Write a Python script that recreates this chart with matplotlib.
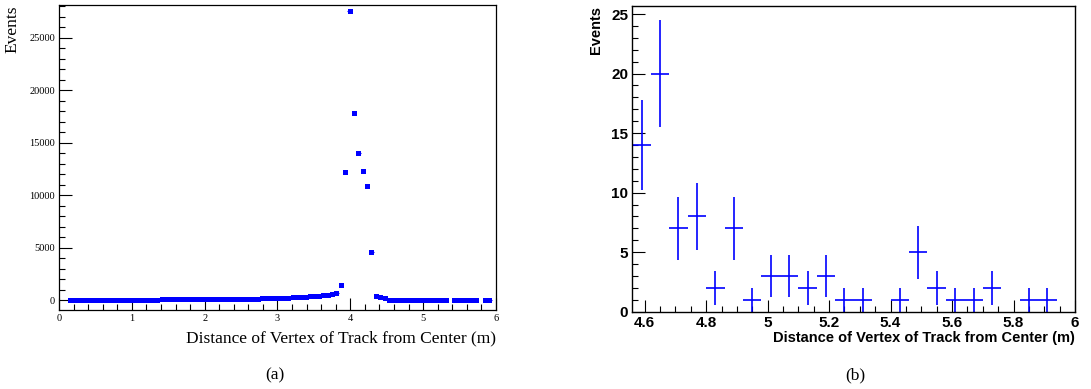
import numpy as np
import matplotlib
matplotlib.use('Agg')
import matplotlib.pyplot as plt
from matplotlib.ticker import MultipleLocator

# Bin centres (m), 0.06 m wide bins from 0 to 6
bin_centers = [0.03, 0.09, 0.15, 0.21, 0.27, 0.33, 0.39, 0.45, 0.51, 0.57,
               0.63, 0.69, 0.75, 0.81, 0.87, 0.93, 0.99, 1.05, 1.11, 1.17,
               1.23, 1.29, 1.35, 1.41, 1.47, 1.53, 1.59, 1.65, 1.71, 1.77,
               1.83, 1.89, 1.95, 2.01, 2.07, 2.13, 2.19, 2.25, 2.31, 2.37,
               2.43, 2.49, 2.55, 2.61, 2.67, 2.73, 2.79, 2.85, 2.91, 2.97,
               3.03, 3.09, 3.15, 3.21, 3.27, 3.33, 3.39, 3.45, 3.51, 3.57,
               3.63, 3.69, 3.75, 3.81, 3.87, 3.93, 3.99, 4.05, 4.11, 4.17,
               4.23, 4.29, 4.35, 4.41, 4.47, 4.53, 4.59, 4.65, 4.71, 4.77,
               4.83, 4.89, 4.95, 5.01, 5.07, 5.13, 5.19, 5.25, 5.31, 5.37,
               5.43, 5.49, 5.55, 5.61, 5.67, 5.73, 5.79, 5.85, 5.91, 5.97]

# Events per bin, full range (panel a)
events_all = [0, 0, 18, 14, 16, 19, 21, 35, 22, 24,
              26, 25, 28, 27, 33, 35, 36, 38, 40, 42,
              41, 45, 47, 55, 50, 52, 55, 60, 62, 65,
              68, 70, 74, 78, 82, 85, 90, 95, 100, 104,
              110, 116, 122, 128, 136, 142, 150, 160, 170, 185,
              200, 215, 235, 255, 280, 305, 330, 355, 390, 420,
              480, 470, 540, 690, 1430, 12200, 27500, 17800, 14050, 12300,
              10900, 4620, 420, 250, 160, 45, 14, 20, 7, 8,
              2, 7, 1, 3, 3, 2, 3, 1, 1, 0,
              1, 5, 2, 1, 1, 2, 0, 1, 1, 0]

half_width = 0.03

x = np.array(bin_centers)
y = np.array(events_all, dtype=float)
filled = y > 0

fig = plt.figure(figsize=(10.91, 3.89), dpi=100)

# ---------------- panel (a) ----------------
serif = 'Liberation Serif'
ax1 = fig.add_axes([0.0541, 0.2031, 0.4005, 0.7840])
ax1.errorbar(x[filled], y[filled], xerr=half_width, fmt='s', color='blue',
             markersize=3.6, markeredgewidth=0, elinewidth=0.8, capsize=0)
ax1.set_xlim(0, 6)
ax1.set_ylim(-950, 28100)
ax1.xaxis.set_major_locator(MultipleLocator(1))
ax1.xaxis.set_minor_locator(MultipleLocator(0.2))
ax1.yaxis.set_major_locator(MultipleLocator(5000))
ax1.yaxis.set_minor_locator(MultipleLocator(1000))
ax1.tick_params(which='both', direction='in', top=False, right=False,
                labelsize=7.5, width=0.8, pad=3)
ax1.tick_params(which='major', length=9)
ax1.tick_params(which='minor', length=4.5)
for lab in ax1.get_xticklabels() + ax1.get_yticklabels():
    lab.set_family(serif)
for s in ax1.spines.values():
    s.set_linewidth(0.9)
ax1.set_xlabel('Distance of Vertex of Track from Center (m)', family=serif,
               fontsize=12.5, loc='right', labelpad=5)
ax1.set_ylabel('Events', family=serif, fontsize=12.5, loc='top', labelpad=6)

# ---------------- panel (b) ----------------
sans = 'Liberation Sans'
zoom = x > 4.56
xb = x[zoom & filled]
yb = y[zoom & filled]
ax2 = fig.add_axes([0.5796, 0.1987, 0.4058, 0.7866])
ax2.errorbar(xb, yb, xerr=half_width, yerr=np.sqrt(yb), fmt='none',
             ecolor='blue', elinewidth=1.2, capsize=0)
ax2.set_xlim(4.56, 6.0)
ax2.set_ylim(0, 25.7)
ax2.xaxis.set_minor_locator(MultipleLocator(0.05))
ax2.yaxis.set_major_locator(MultipleLocator(5))
ax2.yaxis.set_minor_locator(MultipleLocator(1))
ax2.set_xticks([4.6, 4.8, 5.0, 5.2, 5.4, 5.6, 5.8, 6.0])
ax2.set_xticklabels(['4.6', '4.8', '5', '5.2', '5.4', '5.6', '5.8', '6'])
ax2.tick_params(which='both', direction='in', top=False, right=False,
                labelsize=11, width=0.8, pad=3)
ax2.tick_params(which='major', length=9)
ax2.tick_params(which='minor', length=4.5)
for lab in ax2.get_xticklabels() + ax2.get_yticklabels():
    lab.set_family(sans)
    lab.set_fontweight('bold')
for s in ax2.spines.values():
    s.set_linewidth(1.0)
ax2.set_xlabel('Distance of Vertex of Track from Center (m)', family=sans,
               fontweight='bold', fontsize=10.5, loc='right', labelpad=1)
ax2.set_ylabel('Events', family=sans, fontweight='bold', fontsize=10.5,
               loc='top', labelpad=6)

# captions
fig.text(275 / 1091, 1 - 375 / 389, '(a)', family=serif, fontsize=12.5,
         ha='center', va='center')
fig.text(855 / 1091, 1 - 375 / 389, '(b)', family=serif, fontsize=12.5,
         ha='center', va='center')

fig.savefig('out.png', dpi=100)
